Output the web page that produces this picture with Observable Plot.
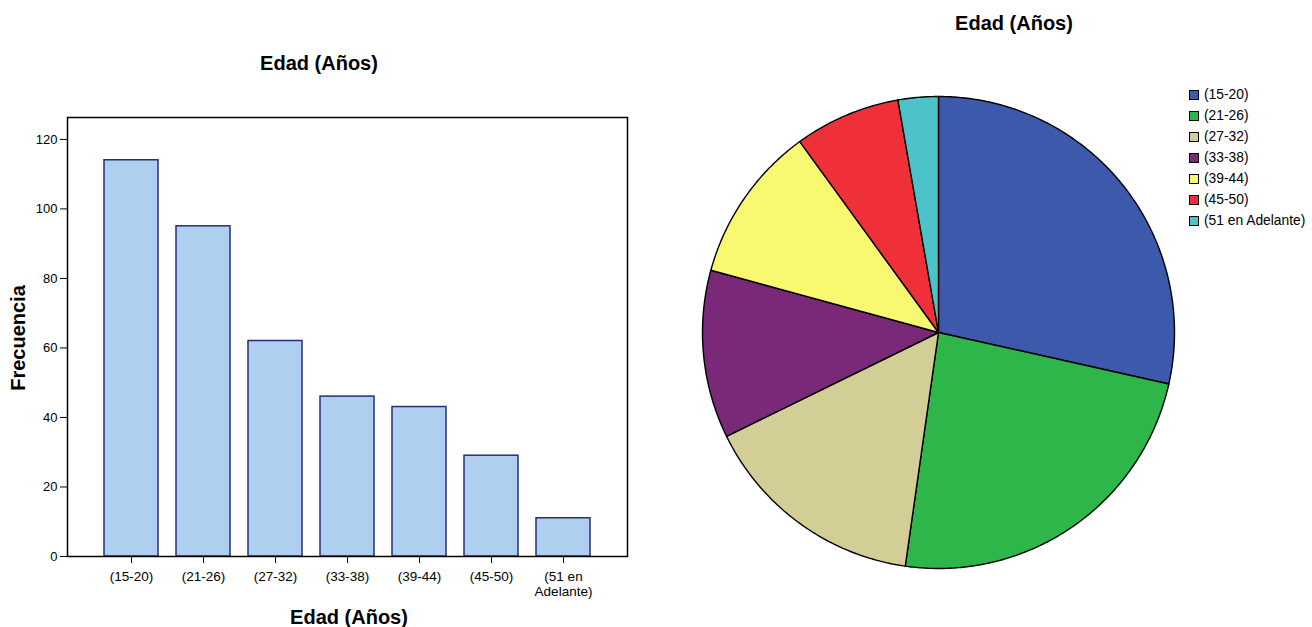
<!DOCTYPE html>
<html>
<head>
<meta charset="utf-8">
<script src="https://cdn.jsdelivr.net/npm/d3@7"></script>
<script src="https://cdn.jsdelivr.net/npm/@observablehq/plot@0.6"></script>
<style>
  body { margin: 0; background: #fff; }
  #root { position: relative; width: 1312px; height: 627px; font-family: "Liberation Sans", Arial, sans-serif; color: #000; overflow: hidden; }
  .title { position: absolute; transform: translate(-50%, -50%); font-weight: bold; font-size: 20px; white-space: nowrap; }
  .abs { position: absolute; left: 0; top: 0; }
  .leg { position: absolute; font-size: 13.8px; white-space: nowrap; display: flex; align-items: center; line-height: 1; }
  .sw { width: 10px; height: 10px; border: 1px solid #000; box-sizing: border-box; margin-right: 5px; }
</style>
</head>
<body>
<div id="root"></div>
<script>
// ---- Data ----
const categories = ["(15-20)", "(21-26)", "(27-32)", "(33-38)", "(39-44)", "(45-50)", "(51 en Adelante)"];
const frequencies = [114, 95, 62, 46, 43, 29, 11];
const yTicks = [0, 20, 40, 60, 80, 100, 120];
const pieColors = ["#3d59ab", "#2fb64a", "#d3cd96", "#7a2878", "#f9f871", "#f03039", "#4bc3c8"];
const chartTitle = "Edad (Años)";
const yLabel = "Frecuencia";
const xLabel = "Edad (Años)";

const root = document.getElementById("root");
const FONT = "'Liberation Sans', Arial, sans-serif";
const data = categories.map((c, i) => ({cat: c, n: frequencies[i]}));

// ---- Bar chart ----
const bar = Plot.plot({
  width: 660, height: 627,
  marginLeft: 67, marginRight: 33, marginTop: 117, marginBottom: 71,
  style: {fontFamily: FONT, fontSize: "13.5px", background: "transparent", color: "#000", overflow: "visible"},
  x: {domain: categories, range: [95, 599], paddingInner: 0.25, paddingOuter: 0.125, label: null},
  y: {domain: [0, 126.3], label: null},
  marks: [
    Plot.barY(data, {x: "cat", y: "n", fill: "#aecfee", stroke: "#2b2b7d", strokeWidth: 1.5}),
    Plot.frame({stroke: "#000", strokeWidth: 1.5}),
    Plot.axisY({ticks: yTicks, tickSize: 7, tickPadding: 3, label: null, fontSize: 13, tickFormat: d => String(d)}),
    Plot.axisX({tickSize: 7, tickPadding: 7, label: null, lineHeight: 1.12, fontSize: 13.5,
      tickFormat: d => d.replace(" Adelante", "\nAdelante")})
  ]
});
bar.classList.add("abs");
root.appendChild(bar);

function addTitle(text, x, y, rotate) {
  const d = document.createElement("div");
  d.className = "title";
  d.textContent = text;
  d.style.left = x + "px";
  d.style.top = y + "px";
  if (rotate) d.style.transform = "translate(-50%, -50%) rotate(-90deg)";
  root.appendChild(d);
}
addTitle(chartTitle, 319, 63);
addTitle(yLabel, 18, 338, true);
addTitle(xLabel, 349, 617);
addTitle(chartTitle, 1014, 23);

// ---- Pie chart ----
const arcs = d3.pie().sort(null).value(d => d.n)(data);
const pts = [];
arcs.forEach(a => {
  pts.push({cat: a.data.cat, x: 0, y: 0});
  const steps = Math.max(2, Math.ceil((a.endAngle - a.startAngle) / (Math.PI / 360)));
  for (let k = 0; k <= steps; k++) {
    const t = a.startAngle + (a.endAngle - a.startAngle) * k / steps;
    pts.push({cat: a.data.cat, x: Math.sin(t), y: Math.cos(t)});
  }
});

const pie = Plot.plot({
  width: 500, height: 500,
  marginLeft: 0, marginRight: 0, marginTop: 0, marginBottom: 0,
  style: {background: "transparent", overflow: "visible"},
  x: {domain: [-1, 1], range: [14, 486], axis: null},
  y: {domain: [-1, 1], range: [486, 14], axis: null},
  color: {domain: categories, range: pieColors},
  marks: [
    Plot.line(pts, {x: "x", y: "y", z: "cat", fill: "cat", stroke: "#000", strokeWidth: 1.4, curve: "linear-closed", strokeLinejoin: "round"})
  ]
});
pie.classList.add("abs");
pie.style.left = "688px";
pie.style.top = "82px";
root.appendChild(pie);

// ---- Legend ----
categories.forEach((c, i) => {
  const row = document.createElement("div");
  row.className = "leg";
  row.style.left = "1189px";
  row.style.top = (88 + i * 21) + "px";
  const sw = document.createElement("div");
  sw.className = "sw";
  sw.style.background = pieColors[i];
  const tx = document.createElement("span");
  tx.textContent = c;
  row.appendChild(sw);
  row.appendChild(tx);
  root.appendChild(row);
});
</script>
</body>
</html>
